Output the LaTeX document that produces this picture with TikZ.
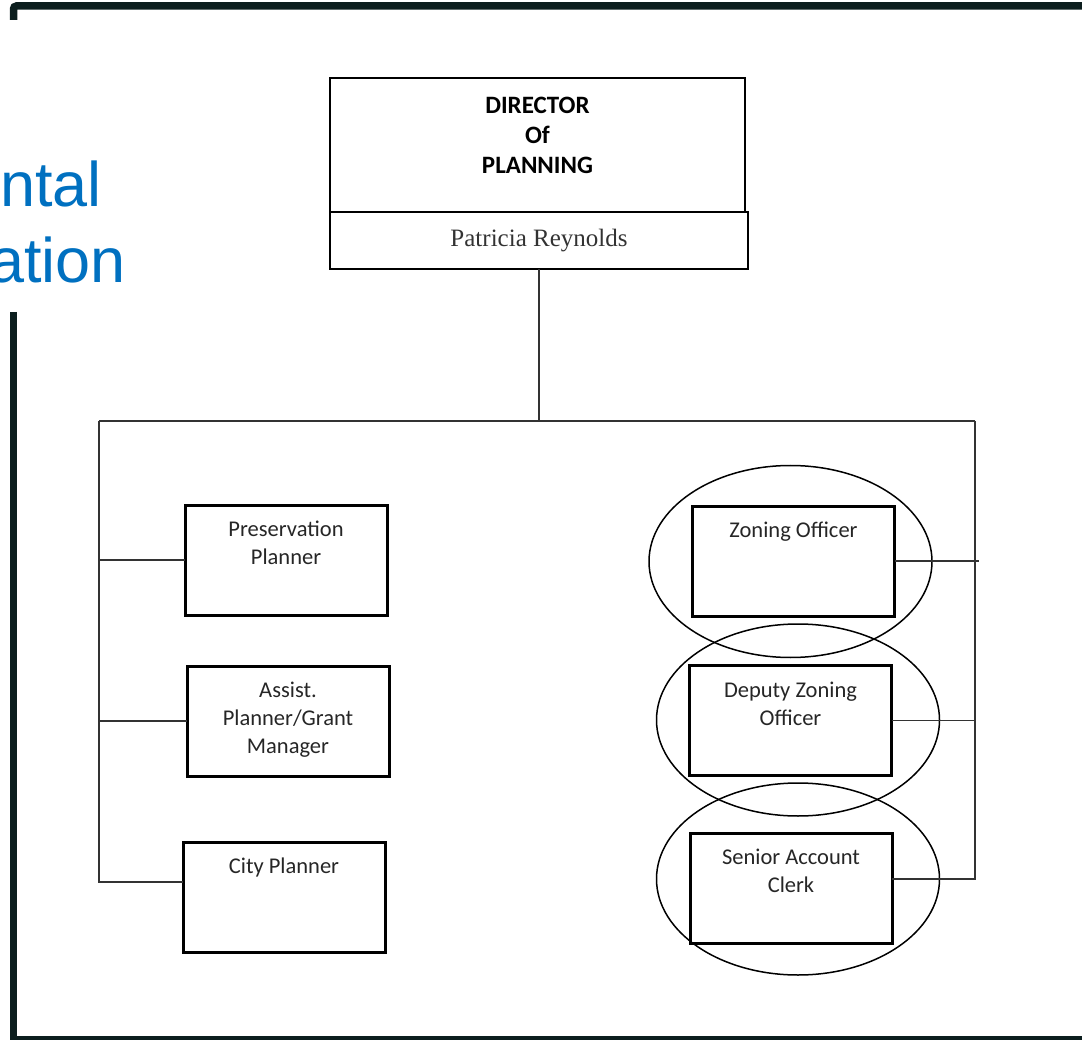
\documentclass[tikz,border=0pt]{standalone}
\usepackage{fontspec}
\usepackage{xcolor}
\usetikzlibrary{shapes,arrows,positioning}
\newfontfamily\boxfont{Carlito}
\newfontfamily\namefont{Liberation Serif}
\newfontfamily\titlefont{Liberation Sans}
\definecolor{framedark}{RGB}{12,30,30}
\definecolor{titleblue}{RGB}{0,112,192}

\begin{document}
\begin{tikzpicture}[x=1pt, y=-1pt]
    \tikzstyle{director} = [rectangle, draw, line width=2.5pt, outer sep=0pt, minimum width=415pt, minimum height=134pt]
    \tikzstyle{dirtext} = [inner sep=0pt, align=center, font=\boxfont\bfseries\fontsize{25}{30}\selectfont]
    \tikzstyle{namebox} = [rectangle, draw, line width=2.5pt, outer sep=0pt, minimum width=418pt, minimum height=57pt, text=black!80, font=\namefont\fontsize{25}{30}\selectfont]
    \tikzstyle{post} = [rectangle, draw, line width=3pt, outer sep=0pt, minimum width=202pt, minimum height=110pt]
    \tikzstyle{posttext} = [inner sep=0pt, align=center, text=black!85, font=\boxfont\fontsize{22.5}{28}\selectfont]
    \tikzstyle{ring} = [ellipse, draw, line width=1.5pt, minimum width=283pt, minimum height=192pt]
    \tikzstyle{link} = [line width=1.5pt, black!80]
    \tikzstyle{frame} = [line width=7.5pt, framedark]
    \tikzstyle{title} = [inner sep=0pt, anchor=base east, text=titleblue, font=\titlefont\fontsize{63}{76}\selectfont]

    \useasboundingbox (0,0) rectangle (1082,1040);

    % Page frame and cut title
    \draw[frame, rounded corners=3pt] (13.5,20) -- (13.5,6) -- (1090,6);
    \draw[frame] (13.5,312) -- (13.5,1040) -- (1090,1040);
    \node[title] (titletop) at (102,207) {ntal};
    \node[title] (titlebot) at (126,283) {ation};

    % Director - Top
    \node[director] (dir) at (537.5,145) {};
    \node[dirtext, below=19pt of dir.north] (dirlabel) {DIRECTOR\\Of\\PLANNING};
    \node[namebox] (name) at (539,240.5) {Patricia Reynolds};

    % Staff - Left
    \node[post] (pres) at (286,560) {};
    \node[post] (assist) at (288,721) {};
    \node[post] (city) at (284,897) {};
    \node[posttext, below=16pt of pres.north] (prestext) {Preservation\\Planner};
    \node[posttext, below=16pt of assist.north] (assisttext) {Assist.\\Planner/Grant\\Manager};
    \node[posttext, below=16pt of city.north] (citytext) {City Planner};

    % Staff - Right
    \node[post] (zoning) at (793.5,561) {};
    \node[post] (deputy) at (790.5,720.5) {};
    \node[post] (clerk) at (791,888) {};
    \node[posttext, below=16pt of zoning.north] (zoningtext) {Zoning Officer};
    \node[posttext, below=16pt of deputy.north] (deputytext) {Deputy Zoning\\Officer};
    \node[posttext, below=16pt of clerk.north] (clerktext) {Senior Account\\Clerk};

    % Circled posts
    \node[ring] (ringa) at (790.5,561.5) {};
    \node[ring] (ringb) at (798,720) {};
    \node[ring] (ringc) at (798,879) {};

    % Connections
    \coordinate (busL) at (99,421);
    \coordinate (busR) at (975,421);
    \draw[link] (name.south) -- (name.south |- busL);
    \draw[link] (busL) -- (busR);
    \draw[link] (busL) |- ([yshift=15pt]city.west);
    \draw[link] (busR) |- ([yshift=9pt]clerk.east);
    \draw[link] (pres.west) -- (pres.west -| busL);
    \draw[link] (assist.west) -- (assist.west -| busL);
    \draw[link] (zoning.east) -- ([xshift=4pt]zoning.east -| busR);
    \draw[link] (deputy.east) -- (deputy.east -| busR);
\end{tikzpicture}
\end{document}
